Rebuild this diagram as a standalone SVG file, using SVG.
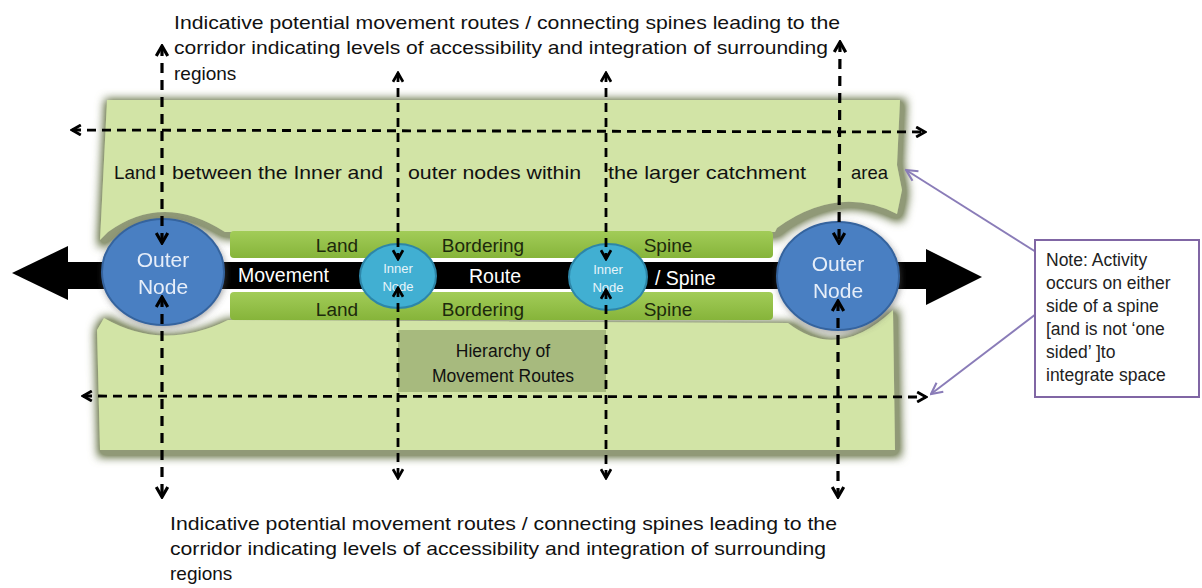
<svg xmlns="http://www.w3.org/2000/svg" width="1202" height="588" viewBox="0 0 1202 588">
<defs>
<filter id="sh" x="-10%" y="-30%" width="120%" height="160%">
<feMorphology in="SourceAlpha" operator="dilate" radius="4" result="d"/>
<feGaussianBlur in="d" stdDeviation="5"/>
<feOffset dx="2" dy="3" result="b0"/>
<feComponentTransfer in="b0" result="b"><feFuncA type="linear" slope="1.6"/></feComponentTransfer>
<feFlood flood-color="#7c8760" flood-opacity="0.85"/>
<feComposite in2="b" operator="in"/>
<feMerge><feMergeNode/><feMergeNode in="SourceGraphic"/></feMerge>
</filter>
<filter id="glow" x="-20%" y="-20%" width="140%" height="140%">
<feGaussianBlur in="SourceAlpha" stdDeviation="3"/>
<feOffset dx="1" dy="2" result="b"/>
<feFlood flood-color="#555" flood-opacity="0.5"/>
<feComposite in2="b" operator="in"/>
<feMerge><feMergeNode/><feMergeNode in="SourceGraphic"/></feMerge>
</filter>
<linearGradient id="bar" x1="0" y1="0" x2="0" y2="1">
<stop offset="0" stop-color="#a2cc58"/>
<stop offset="1" stop-color="#86b43a"/>
</linearGradient>
<marker id="ah" viewBox="0 0 10 10" refX="8.5" refY="5" markerWidth="4.5" markerHeight="4.5" orient="auto-start-reverse" markerUnits="strokeWidth">
<path d="M1.5,1 L8.5,5 L1.5,9" fill="none" stroke="#000" stroke-width="2.2"/>
</marker>
<marker id="ahp" viewBox="0 0 10 10" refX="9" refY="5" markerWidth="7" markerHeight="7" orient="auto" markerUnits="strokeWidth">
<path d="M1,1 L9,5 L1,9" fill="none" stroke="#8a7cb8" stroke-width="1.5"/>
</marker>
<style>
.t{font-family:"Liberation Sans",Arial,sans-serif;fill:#111;}
.big{font-size:19px;}
.bar{font-size:19px;fill:#1d2a0c;}
.wt{font-size:19.5px;fill:#fff;}
.on{font-size:21px;fill:#e6eef9;}
.in{font-size:13px;fill:#e6f4fa;}
.note{font-size:17.5px;fill:#222;}
.d{stroke:#000;stroke-width:3.2;stroke-dasharray:10 7;fill:none;marker-start:url(#ah);marker-end:url(#ah);}
.dt{stroke:#000;stroke-width:2.8;stroke-dasharray:9 6;fill:none;marker-start:url(#ah);marker-end:url(#ah);}
.pl{stroke:#8a7cb8;stroke-width:2;fill:none;marker-end:url(#ahp);}
</style>
</defs>
<rect width="1202" height="588" fill="#fff"/>

<g id="panel-top" filter="url(#sh)">
<path d="M107,100 L900,100 L897,165 L902,190 L897,214 Q838,184 777,228 L775,232 L225,232 Q163,192 108,232 L100,240 Z" fill="#d2e4a6"/>
</g>
<g id="panel-bottom" filter="url(#sh)">
<path d="M104,318 Q163,352 228,320 L788,323 Q838,362 893,310 L895,450 L100,450 L97,330 Z" fill="#d2e4a6"/>
</g>

<g id="route">
<rect x="60" y="259" width="872" height="33" fill="#fff"/>
<rect x="62" y="262" width="868" height="27" fill="#000"/>
<path d="M12,273 L68,246 L68,300 Z" fill="#000"/>
<path d="M982,277 L926,249 L926,305 Z" fill="#000"/>
<text class="t wt" x="238" y="282">Movement</text>
<text class="t wt" x="495" y="283" text-anchor="middle">Route</text>
<text class="t wt" x="655" y="285">/ Spine</text>
</g>

<g id="bar-top">
<rect x="230" y="231" width="543" height="27" rx="4" fill="url(#bar)"/>
<text class="t bar" x="337" y="252" text-anchor="middle">Land</text>
<text class="t bar" x="483" y="252" text-anchor="middle">Bordering</text>
<text class="t bar" x="668" y="252" text-anchor="middle">Spine</text>
</g>
<g id="bar-bottom">
<rect x="230" y="292" width="543" height="28" rx="4" fill="url(#bar)"/>
<text class="t bar" x="337" y="316" text-anchor="middle">Land</text>
<text class="t bar" x="483" y="316" text-anchor="middle">Bordering</text>
<text class="t bar" x="668" y="316" text-anchor="middle">Spine</text>
</g>

<g id="hierarchy">
<rect x="398" y="330" width="208" height="62" fill="#9caf74" opacity="0.8"/>
<text class="t" x="503" y="357" text-anchor="middle" font-size="17.5" fill="#2a3318">Hierarchy of</text>
<text class="t" x="503" y="382" text-anchor="middle" font-size="17.5" fill="#2a3318">Movement Routes</text>
</g>

<g id="panel-text">
<text class="t big" x="114" y="179" textLength="42" lengthAdjust="spacingAndGlyphs">Land</text>
<text class="t big" x="172" y="179" textLength="211" lengthAdjust="spacingAndGlyphs">between the Inner and</text>
<text class="t big" x="408" y="179" textLength="173" lengthAdjust="spacingAndGlyphs">outer nodes within</text>
<text class="t big" x="608" y="179" textLength="198" lengthAdjust="spacingAndGlyphs">the larger  catchment</text>
<text class="t big" x="851" y="179" textLength="37" lengthAdjust="spacingAndGlyphs">area</text>
</g>

<g id="outer-node-left" filter="url(#glow)">
<ellipse cx="163" cy="272" rx="61" ry="53" fill="#4a7fc2" stroke="#34649e" stroke-width="2"/>
<text class="t on" x="163" y="267" text-anchor="middle">Outer</text>
<text class="t on" x="163" y="294" text-anchor="middle">Node</text>
</g>
<g id="outer-node-right" filter="url(#glow)">
<ellipse cx="838" cy="276" rx="61" ry="54" fill="#4a7fc2" stroke="#34649e" stroke-width="2"/>
<text class="t on" x="838" y="271" text-anchor="middle">Outer</text>
<text class="t on" x="838" y="298" text-anchor="middle">Node</text>
</g>
<g id="inner-node-left">
<ellipse cx="398" cy="276" rx="38" ry="32" fill="#41afd2" stroke="#2d86a8" stroke-width="2"/>
<text class="t in" x="398" y="273" text-anchor="middle">Inner</text>
<text class="t in" x="398" y="291" text-anchor="middle">Node</text>
</g>
<g id="inner-node-right">
<ellipse cx="608" cy="277" rx="39" ry="33" fill="#41afd2" stroke="#2d86a8" stroke-width="2"/>
<text class="t in" x="608" y="274" text-anchor="middle">Inner</text>
<text class="t in" x="608" y="292" text-anchor="middle">Node</text>
</g>

<g id="connectors">
<line class="dt" x1="72" y1="130" x2="925" y2="132"/>
<line class="dt" x1="83" y1="396" x2="926" y2="397"/>
<line class="d" x1="162" y1="46" x2="162" y2="243"/>
<line class="d" x1="162" y1="297" x2="162" y2="497"/>
<line class="dt" x1="398" y1="73" x2="398" y2="259"/>
<line class="dt" x1="398" y1="288" x2="398" y2="478"/>
<line class="dt" x1="606" y1="73" x2="606" y2="259"/>
<line class="dt" x1="606" y1="290" x2="606" y2="478"/>
<line class="d" x1="840" y1="42" x2="839" y2="243"/>
<line class="d" x1="838" y1="301" x2="838" y2="497"/>
<line class="pl" x1="1036" y1="252" x2="906" y2="170"/>
<line class="pl" x1="1036" y1="314" x2="931" y2="394"/>
</g>

<g id="note">
<rect x="1035" y="240" width="164" height="157" fill="#fff" stroke="#8066a4" stroke-width="2"/>
<text class="t note" x="1046" y="266">Note: Activity</text>
<text class="t note" x="1046" y="289">occurs on either</text>
<text class="t note" x="1046" y="312">side of a spine</text>
<text class="t note" x="1046" y="335">[and is not ‘one</text>
<text class="t note" x="1046" y="358">sided’ ]to</text>
<text class="t note" x="1046" y="381">integrate space</text>
</g>

<g id="caption-top">
<text class="t" font-size="19" x="174" y="29" textLength="666" lengthAdjust="spacingAndGlyphs">Indicative potential movement routes / connecting spines leading to the</text>
<text class="t" font-size="19" x="174" y="54" textLength="654" lengthAdjust="spacingAndGlyphs">corridor indicating levels of accessibility and integration of surrounding</text>
<text class="t" font-size="19" x="174" y="80">regions</text>
</g>
<g id="caption-bottom">
<text class="t" font-size="19" x="170" y="530" textLength="667" lengthAdjust="spacingAndGlyphs">Indicative potential movement routes / connecting spines leading to the</text>
<text class="t" font-size="19" x="170" y="555" textLength="656" lengthAdjust="spacingAndGlyphs">corridor indicating levels of accessibility and integration of surrounding</text>
<text class="t" font-size="19" x="170" y="580">regions</text>
</g>
</svg>
